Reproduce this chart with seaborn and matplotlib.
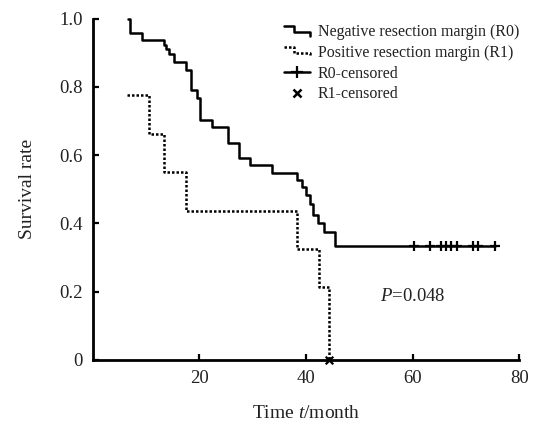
import matplotlib
matplotlib.use("Agg")
import matplotlib.pyplot as plt
from matplotlib.legend_handler import HandlerBase
from matplotlib.lines import Line2D
import pandas as pd
import seaborn as sns

# R0 (negative margin): step times and survival after each step
r0_time = [6.7, 7.1, 9.3, 13.3, 13.7, 14.3, 15.3, 17.5, 18.4, 19.5, 20.2, 22.4,
           25.4, 27.5, 29.5, 33.6, 38.3, 39.2, 40.0, 40.8, 41.4, 42.2, 43.3, 45.4, 75.4]
r0_surv = [1.0, 0.958, 0.937, 0.922, 0.910, 0.896, 0.873, 0.849, 0.791, 0.766, 0.703, 0.681,
           0.635, 0.592, 0.571, 0.548, 0.527, 0.508, 0.483, 0.456, 0.425, 0.400, 0.376, 0.333, 0.333]
r0_cens_time = [60.3, 63.3, 65.3, 66.2, 67.2, 68.3, 71.4, 72.3, 75.4]
r0_cens_surv = [0.333] * 9

# R1 (positive margin)
r1_time = [6.4, 10.6, 13.4, 17.6, 38.4, 42.5, 44.4]
r1_surv = [0.776, 0.661, 0.550, 0.437, 0.325, 0.215, 0.0]
r1_cens_time = [44.4]
r1_cens_surv = [0.0]

xticks = [20, 40, 60, 80]
yticks = [0, 0.2, 0.4, 0.6, 0.8, 1.0]
yticklabels = ["0", "0.2", "0.4", "0.6", "0.8", "1.0"]

sns.set_theme(style="ticks")
plt.rcParams["font.family"] = ["Liberation Serif", "DejaVu Serif"]
plt.rcParams["mathtext.fontset"] = "custom"
plt.rcParams["mathtext.rm"] = "Liberation Serif"
plt.rcParams["mathtext.it"] = "Liberation Serif:italic"

txt = "#222222"

fig = plt.figure(figsize=(5.41, 4.25), dpi=100)
ax = fig.add_axes([92.6 / 541, 1 - 360 / 425, (519.3 - 92.6) / 541, (360 - 18.5) / 425])

df0 = pd.DataFrame({"t": r0_time, "s": r0_surv})
df1 = pd.DataFrame({"t": r1_time, "s": r1_surv})

sns.lineplot(data=df0, x="t", y="s", drawstyle="steps-post", color="black",
             linewidth=1.8, ax=ax, clip_on=False, sort=False, estimator=None)
sns.lineplot(data=df1, x="t", y="s", drawstyle="steps-post", color="black",
             linewidth=1.8, linestyle=(0, (1, 0.8)), ax=ax, clip_on=False,
             sort=False, estimator=None)
sns.scatterplot(x=r0_cens_time, y=r0_cens_surv, marker="+", s=55, color="black",
                linewidth=1.6, ax=ax, clip_on=False, zorder=4)
sns.scatterplot(x=r1_cens_time, y=r1_cens_surv, marker="x", s=30, color="black",
                linewidth=1.6, ax=ax, clip_on=False, zorder=4)

ax.set_xlim(0, 80)
ax.set_ylim(0, 1.0)
ax.set_xticks(xticks)
ax.set_yticks(yticks)
ax.set_yticklabels(yticklabels)
ax.tick_params(direction="in", length=4, width=1.6, labelsize=13.5, colors="black",
               labelcolor=txt, pad=7)
for side in ["top", "right"]:
    ax.spines[side].set_visible(False)
for side in ["left", "bottom"]:
    ax.spines[side].set_linewidth(2)
    ax.spines[side].set_color("black")

ax.set_xlabel(r"Time $\mathit{t}$/month", fontsize=14, color=txt, labelpad=13)
ax.set_ylabel("Survival rate", fontsize=14, color=txt, labelpad=17)

ax.text(53.9, 0.185, r"$\mathit{P}$=0.048", fontsize=13.5, color=txt, va="center", ha="left")


class StepHandler(HandlerBase):
    def __init__(self, ls):
        super().__init__()
        self.ls = ls

    def create_artists(self, legend, orig_handle, xdescent, ydescent, width, height,
                       fontsize, trans):
        x0, y0 = -xdescent, -ydescent
        xs = [x0, x0 + 0.4 * width, x0 + 0.4 * width, x0 + width, x0 + width]
        ys = [y0 + 0.85 * height, y0 + 0.85 * height, y0 + 0.35 * height,
              y0 + 0.35 * height, y0 + 0.0 * height]
        ln = Line2D(xs, ys, color="black", linewidth=1.8, linestyle=self.ls)
        ln.set_transform(trans)
        return [ln]


h0 = Line2D([], [], color="black")
h1 = Line2D([], [], color="black", linestyle=":")
h2 = Line2D([], [], color="black", marker="+", markersize=9, mew=1.6, linewidth=1.8)
h3 = Line2D([], [], color="black", marker="x", markersize=6, mew=1.8, linestyle="none")

leg = fig.legend([h0, h1, h2, h3],
                 ["Negative resection margin (R0)", "Positive resection margin (R1)",
                  "R0-censored", "R1-censored"],
                 handler_map={h0: StepHandler("-"), h1: StepHandler((0, (1, 0.8)))},
                 loc="upper left", bbox_to_anchor=(284 / 541, 1 - 24 / 425),
                 frameon=False, fontsize=11.5, handlelength=1.6, handletextpad=0.5,
                 labelspacing=0.3, borderpad=0, borderaxespad=0)
for t in leg.get_texts():
    t.set_color(txt)

fig.savefig("out.png", dpi=100, facecolor="white")
